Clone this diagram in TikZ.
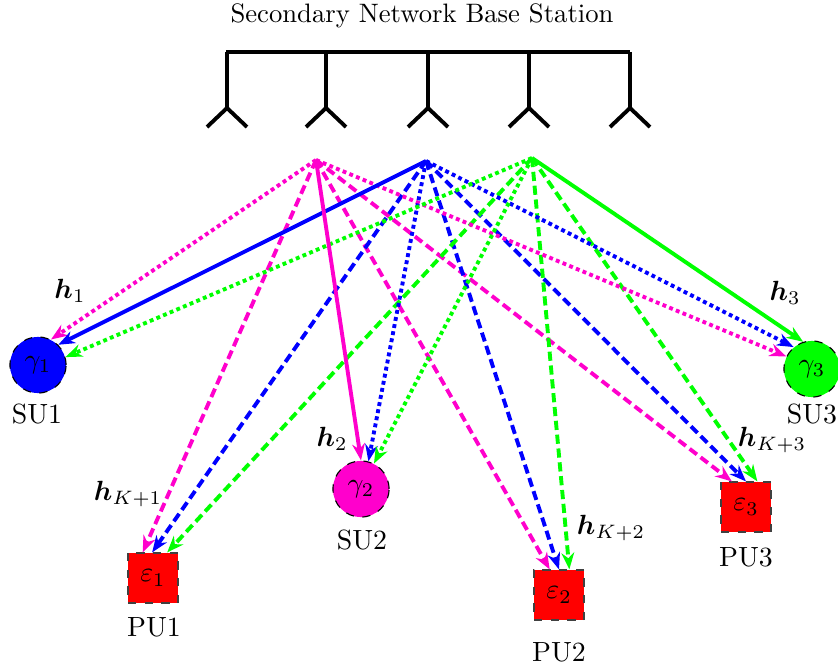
\documentclass[tikz,border=0pt]{standalone}
\usepackage{amsmath}
\usetikzlibrary{arrows.meta,calc}
\definecolor{mag}{RGB}{255,0,204}
\definecolor{bl}{RGB}{0,0,255}
\definecolor{gr}{RGB}{0,255,0}
\definecolor{rd}{RGB}{255,0,0}
\begin{document}
\begin{tikzpicture}[x=0.36pt,y=-0.36pt,
 ant/.style={line width=1.4pt},
 su/.style={circle,draw=black,dashed,line width=0.4pt,minimum size=20.2pt,inner sep=0pt},
 pu/.style={rectangle,draw=black!75,dashed,fill=rd,line width=0.4pt,minimum size=18pt,inner sep=0pt},
 lnk/.style={line width=1.4pt,-{Stealth[length=6pt,width=4.6pt]}},
 solidl/.style={lnk,solid},
 dotl/.style={lnk,dash pattern=on 1.4pt off 1.2pt},
 dashl/.style={lnk,dash pattern=on 3.3pt off 1.7pt},
]
\useasboundingbox (0,0) rectangle (838,668);
% title
\node[font=\fontsize{9.6pt}{11pt}\selectfont] (title) at (422,16) {Secondary Network Base Station};
% antenna array
\draw[ant] (226,52) -- (630,52);
\foreach \x in {227,326,428,529,630}{
  \draw[ant] (\x,52) -- (\x,108);
  \draw[ant] (\x-20,127) -- (\x,108) -- (\x+20,127);
}
% sources
\coordinate (sm) at (316,160);
\coordinate (sb) at (426,161);
\coordinate (sg) at (532,158);
% users
\node[su,fill=bl]  (su1) at (38,365)  {$\gamma_1$};
\node[su,fill=mag] (su2) at (361,489) {$\gamma_2$};
\node[su,fill=gr]  (su3) at (812,369) {$\gamma_3$};
\node[pu] (pu1) at (153,578) {$\varepsilon_1$};
\node[pu] (pu2) at (559,595) {$\varepsilon_2$};
\node[pu] (pu3) at (746,507) {$\varepsilon_3$};
% user labels
\node (lsu1) at (37,414)  {SU1};
\node (lsu2) at (362,540) {SU2};
\node (lsu3) at (812,414) {SU3};
\node (lpu1) at (154,627) {PU1};
\node (lpu2) at (559,652) {PU2};
\node (lpu3) at (746,557) {PU3};
% channel labels
\node (h1) at (70,291)  {$\boldsymbol{h}_1$};
\node (h2) at (332,439) {$\boldsymbol{h}_2$};
\node (h3) at (785,293) {$\boldsymbol{h}_3$};
\node (hk1) at (128,494) {$\boldsymbol{h}_{K+1}$};
\node (hk2) at (611,528) {$\boldsymbol{h}_{K+2}$};
\node (hk3) at (772,440) {$\boldsymbol{h}_{K+3}$};
% dashed links to PUs
\draw[dashl,mag] (sm) -- (pu1.112);
\draw[dashl,mag] (sm) -- (pu2.110);
\draw[dashl,mag] (sm) -- (pu3.119);
\draw[dashl,bl] (sb) -- (pu1.92);
\draw[dashl,bl] (sb) -- (pu2.90);
\draw[dashl,bl] (sb) -- (pu3.90);
\draw[dashl,gr] (sg) -- (pu1.61);
\draw[dashl,gr] (sg) -- (pu2.68);
\draw[dashl,gr] (sg) -- (pu3.66);
% dotted interference links
\draw[dotl,mag] (sm) -- (su1.63);
\draw[dotl,mag] (sm) -- (su3.154);
\draw[dotl,bl] (sb) -- (su2.75);
\draw[dotl,bl] (sb) -- (su3.130);
\draw[dotl,gr] (sg) -- (su1.16);
\draw[dotl,gr] (sg) -- (su2.63);
% solid direct links
\draw[solidl,bl] (sb) -- (su1.45);
\draw[solidl,mag] (sm) -- (su2.90);
\draw[solidl,gr] (sg) -- (su3.108);
\end{tikzpicture}
\end{document}
